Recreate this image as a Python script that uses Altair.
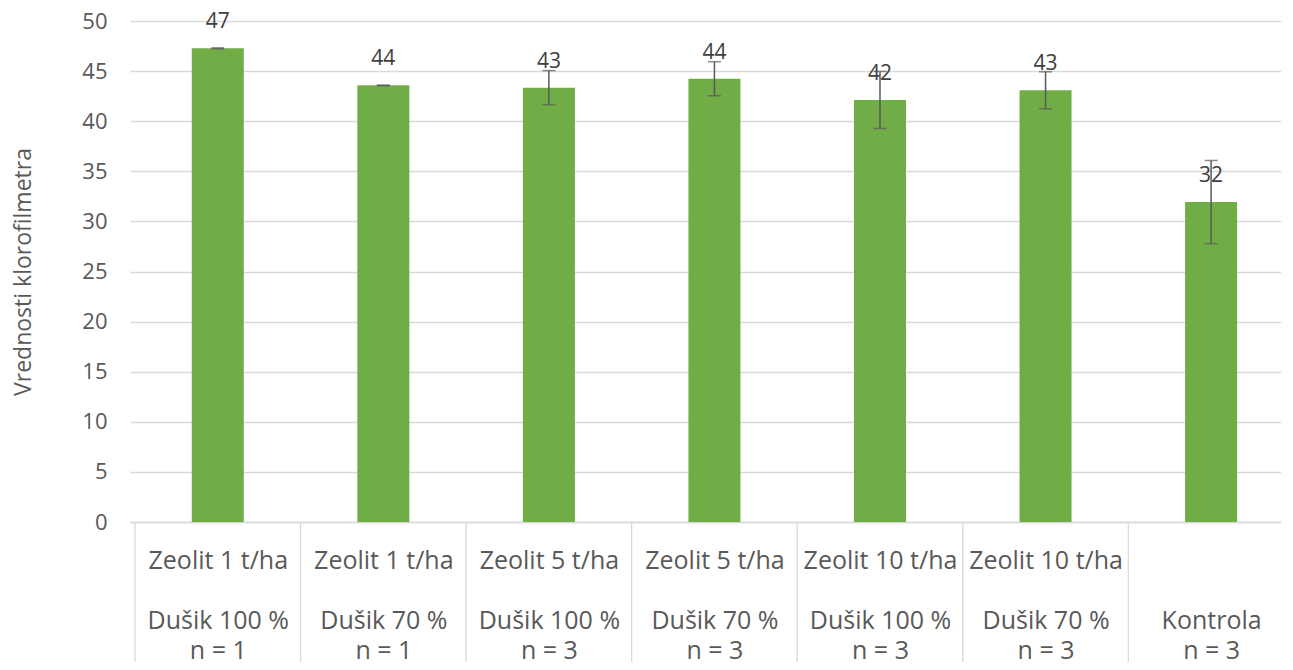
import json
import altair as alt
import pandas as pd

# ---- data ----
row1_labels = ["Zeolit 1 t/ha", "Zeolit 1 t/ha", "Zeolit 5 t/ha", "Zeolit 5 t/ha",
               "Zeolit 10 t/ha", "Zeolit 10 t/ha", "\u200b"]
row2_labels = ["Dušik 100 %", "Dušik 70 %", "Dušik 100 %", "Dušik 70 %",
               "Dušik 100 %", "Dušik 70 %", "Kontrola"]
n_labels = ["n = 1", "n = 1", "n = 3", "n = 3", "n = 3", "n = 3", "n = 3"]
means = [47.27, 43.58, 43.35, 44.24, 42.12, 43.08, 31.93]
errors = [0.05, 0.03, 1.70, 1.70, 2.85, 1.85, 4.15]
y_ticks = [0, 5, 10, 15, 20, 25, 30, 35, 40, 45, 50]

FONT = "Open Sans"
GREY = "#595959"
GRID = "#d9d9d9"

n = len(means)
positions = [i + 0.5 for i in range(n)]
df = pd.DataFrame({
    "pos": positions,
    "bound": list(range(n)),
    "mean": means,
    "lo": [m - e for m, e in zip(means, errors)],
    "hi": [m + e for m, e in zip(means, errors)],
    "label": [str(int(round(m))) for m in means],
})

label_lines = [[a, "\u200b", b, c] for a, b, c in zip(row1_labels, row2_labels, n_labels)]
label_expr = json.dumps(label_lines, ensure_ascii=False) + "[floor(datum.value)]"

xscale = alt.Scale(domain=[0, 6.892], nice=False, zero=False)
yscale = alt.Scale(domain=[0, 50], nice=False)

x_axis = alt.Axis(
    values=positions, labelExpr=label_expr, title=None, grid=False, ticks=False,
    domainColor=GRID, domainWidth=1.3, labelAngle=0, labelBaseline="top",
    labelPadding=26, labelLineHeight=30, labelFont=FONT, labelFontSize=25,
    labelColor=GREY, labelOverlap=False, labelFlush=False,
)
y_axis = alt.Axis(
    values=y_ticks, title="Vrednosti klorofilmetra", grid=True, gridColor=GRID,
    gridWidth=1.3, domain=False, ticks=False, labelFont=FONT, labelFontSize=22,
    labelColor=GREY, labelPadding=23, titleFont=FONT, titleFontSize=23,
    titleColor=GREY, titleFontWeight="normal", titlePadding=46,
)

base = alt.Chart(df)

bars = base.mark_bar(size=52, color="#70ad47").encode(
    x=alt.X("pos:Q", scale=xscale, axis=x_axis),
    y=alt.Y("mean:Q", scale=yscale, axis=y_axis),
)

separators = base.mark_rule(color=GRID, strokeWidth=1.3).encode(
    x=alt.X("bound:Q", scale=xscale, axis=x_axis),
    y=alt.value(501),
    y2=alt.value(645),
)

stems = base.mark_rule(color=GREY, strokeWidth=1.5).encode(
    x=alt.X("pos:Q", scale=xscale, axis=x_axis),
    y=alt.Y("lo:Q", scale=yscale, axis=y_axis),
    y2="hi:Q",
)
caps_lo = base.mark_tick(orient="horizontal", size=13, thickness=1.5, color=GREY).encode(
    x=alt.X("pos:Q", scale=xscale, axis=x_axis),
    y=alt.Y("lo:Q", scale=yscale, axis=y_axis),
)
caps_hi = base.mark_tick(orient="horizontal", size=13, thickness=1.5, color=GREY).encode(
    x=alt.X("pos:Q", scale=xscale, axis=x_axis),
    y=alt.Y("hi:Q", scale=yscale, axis=y_axis),
)

labels = base.mark_text(dy=-26, font=FONT, fontSize=21, color="#404040", baseline="middle").encode(
    x=alt.X("pos:Q", scale=xscale, axis=x_axis),
    y=alt.Y("mean:Q", scale=yscale, axis=y_axis),
    text="label:N",
)

chart = alt.layer(bars, separators, stems, caps_lo, caps_hi, labels).properties(
    width=1151,
    height=501,
    autosize=alt.AutoSizeParams(type="none"),
    padding={"left": 122, "top": 13, "right": 0, "bottom": 140},
).configure_view(stroke=None)

chart.save("out.html", embed_options={"renderer": "svg", "actions": False})
